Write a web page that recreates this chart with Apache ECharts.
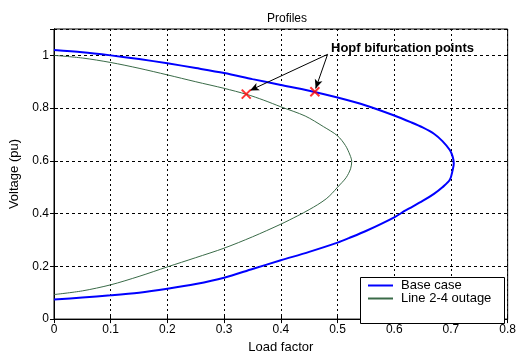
<!DOCTYPE html>
<html>
<head>
<meta charset="utf-8">
<script src="https://cdn.jsdelivr.net/npm/echarts@6/dist/echarts.min.js"></script>
<style>
  html, body { margin: 0; padding: 0; background: #fff; }
  #chart { width: 519px; height: 359px; }
</style>
</head>
<body>
<div id="chart"></div>
<script>
// PV (nose) curves: [load factor, voltage] traced from the upper branch through the nose to the lower branch
const baseCase = [
  [0, 1.02], [0.05, 1.012], [0.1, 1.0], [0.15, 0.986], [0.2, 0.97], [0.25, 0.952],
  [0.3, 0.933], [0.35, 0.91], [0.4, 0.888], [0.45, 0.866], [0.5, 0.84], [0.55, 0.81],
  [0.6, 0.772], [0.63, 0.746], [0.65, 0.727], [0.67, 0.703], [0.685, 0.675], [0.698, 0.641],
  [0.703, 0.616], [0.705, 0.59], [0.703, 0.565], [0.698, 0.528], [0.685, 0.5], [0.67, 0.475],
  [0.65, 0.448], [0.62, 0.412], [0.6, 0.386], [0.55, 0.334], [0.52, 0.307], [0.5, 0.29],
  [0.45, 0.255], [0.4, 0.223], [0.35, 0.19], [0.3, 0.157], [0.25, 0.133], [0.2, 0.115],
  [0.15, 0.1], [0.1, 0.09], [0.05, 0.082], [0, 0.074]
];
const lineOutage = [
  [0, 1.0], [0.05, 0.99], [0.1, 0.973], [0.15, 0.951], [0.2, 0.926], [0.25, 0.9],
  [0.3, 0.875], [0.34, 0.852], [0.37, 0.83], [0.4, 0.805], [0.443, 0.77], [0.475, 0.73],
  [0.5, 0.695], [0.514, 0.658], [0.522, 0.622], [0.525, 0.598], [0.523, 0.57],
  [0.515, 0.536], [0.5, 0.5], [0.49, 0.476], [0.48, 0.456], [0.465, 0.434], [0.45, 0.415],
  [0.43, 0.392], [0.4, 0.36], [0.35, 0.312], [0.3, 0.269], [0.25, 0.233], [0.2, 0.198],
  [0.15, 0.162], [0.1, 0.13], [0.05, 0.107], [0, 0.093]
];
// Hopf bifurcation points on each curve
const hopfPoints = [[0.339, 0.853], [0.46, 0.862]];
// Annotation arrows: start near the label, end next to each point
const arrowStart = [0.4825, 1.004];
const arrowEnds = [[0.3456, 0.867], [0.4614, 0.8745]];

const seriesNames = ['Base case', 'Line 2-4 outage'];
const FONT = 'Liberation Sans, Arial, sans-serif';

const chart = echarts.init(document.getElementById('chart'), null, { renderer: 'canvas' });

const commonAxis = {
  axisLine: { show: true, lineStyle: { color: '#000', width: 1 } },
  axisTick: { show: true, inside: true, length: 4, lineStyle: { color: '#000' } }
};

chart.setOption({
  backgroundColor: '#fff',
  animation: false,
  title: {
    text: 'Profiles',
    left: 282, top: 8, textAlign: 'center',
    textStyle: { fontFamily: FONT, fontSize: 12, fontWeight: 'normal', color: '#000' }
  },
  grid: { left: 54, right: 9, top: 29, bottom: 32, show: true, borderColor: '#000', borderWidth: 1 },
  legend: {
    orient: 'vertical',
    left: 362, top: 279, z: 200,
    itemWidth: 25, itemHeight: 13, itemGap: 0,
    padding: [0, 0, 0, 5],
    itemStyle: { opacity: 0 },
    textStyle: { fontFamily: FONT, fontSize: 13, color: '#000', padding: [0, 0, 0, 3] },
    data: seriesNames
  },
  xAxis: [{
    type: 'value', min: 0, max: 0.8, interval: 0.1,
    name: 'Load factor', nameLocation: 'middle', nameGap: 21,
    nameTextStyle: { fontFamily: FONT, fontSize: 13, color: '#000' },
    ...commonAxis,
    axisLabel: { margin: 5, fontFamily: FONT, fontSize: 12, color: '#000' },
    splitLine: { show: true, lineStyle: { color: '#000', type: [2, 3], width: 1 } }
  }, {
    type: 'value', min: 0, max: 0.8, interval: 0.1, position: 'top',
    ...commonAxis, axisLabel: { show: false }, splitLine: { show: false }
  }],
  yAxis: [{
    type: 'value', min: 0, max: 1.1, interval: 0.2,
    name: 'Voltage (pu)', nameLocation: 'middle', nameGap: 28,
    nameTextStyle: { fontFamily: FONT, fontSize: 13, color: '#000' },
    ...commonAxis,
    axisLabel: { margin: 5, fontFamily: FONT, fontSize: 12, color: '#000', showMaxLabel: false },
    splitLine: { show: true, lineStyle: { color: '#000', type: [3, 3], width: 1 } }
  }, {
    type: 'value', min: 0, max: 1.1, interval: 0.2, position: 'right',
    ...commonAxis, axisLabel: { show: false }, splitLine: { show: false }
  }],
  graphic: [
    { type: 'rect', left: 360, top: 277, shape: { width: 144, height: 46 },
      style: { fill: '#fff', stroke: '#000', lineWidth: 1 }, z: 100 },
    { type: 'text', left: 331, top: 42, z: 100,
      style: { text: 'Hopf bifurcation points', fill: '#000', font: 'bold 13px ' + FONT } }
  ],
  series: [{
    name: seriesNames[0], type: 'line', data: baseCase,
    showSymbol: false, symbol: 'none', smooth: 0.3,
    lineStyle: { color: '#0000ff', width: 2 }, itemStyle: { color: '#0000ff' }, z: 3
  }, {
    name: seriesNames[1], type: 'line', data: lineOutage,
    showSymbol: false, symbol: 'none', smooth: 0.3,
    lineStyle: { color: '#3a6b48', width: 1 }, itemStyle: { color: '#3a6b48' }, z: 2
  }, {
    name: 'Hopf', type: 'scatter', data: hopfPoints, z: 5,
    symbol: 'path://M0,0L10,10M10,0L0,10', symbolSize: 9,
    itemStyle: { color: '#ff0000', borderColor: '#ff0000', borderWidth: 2 },
    markLine: {
      silent: true, symbol: ['none', 'arrow'], symbolSize: [6, 9],
      label: { show: false },
      lineStyle: { color: '#000', type: 'solid', width: 1 },
      data: arrowEnds.map(e => [{ coord: arrowStart }, { coord: e }])
    }
  }]
});
</script>
</body>
</html>
